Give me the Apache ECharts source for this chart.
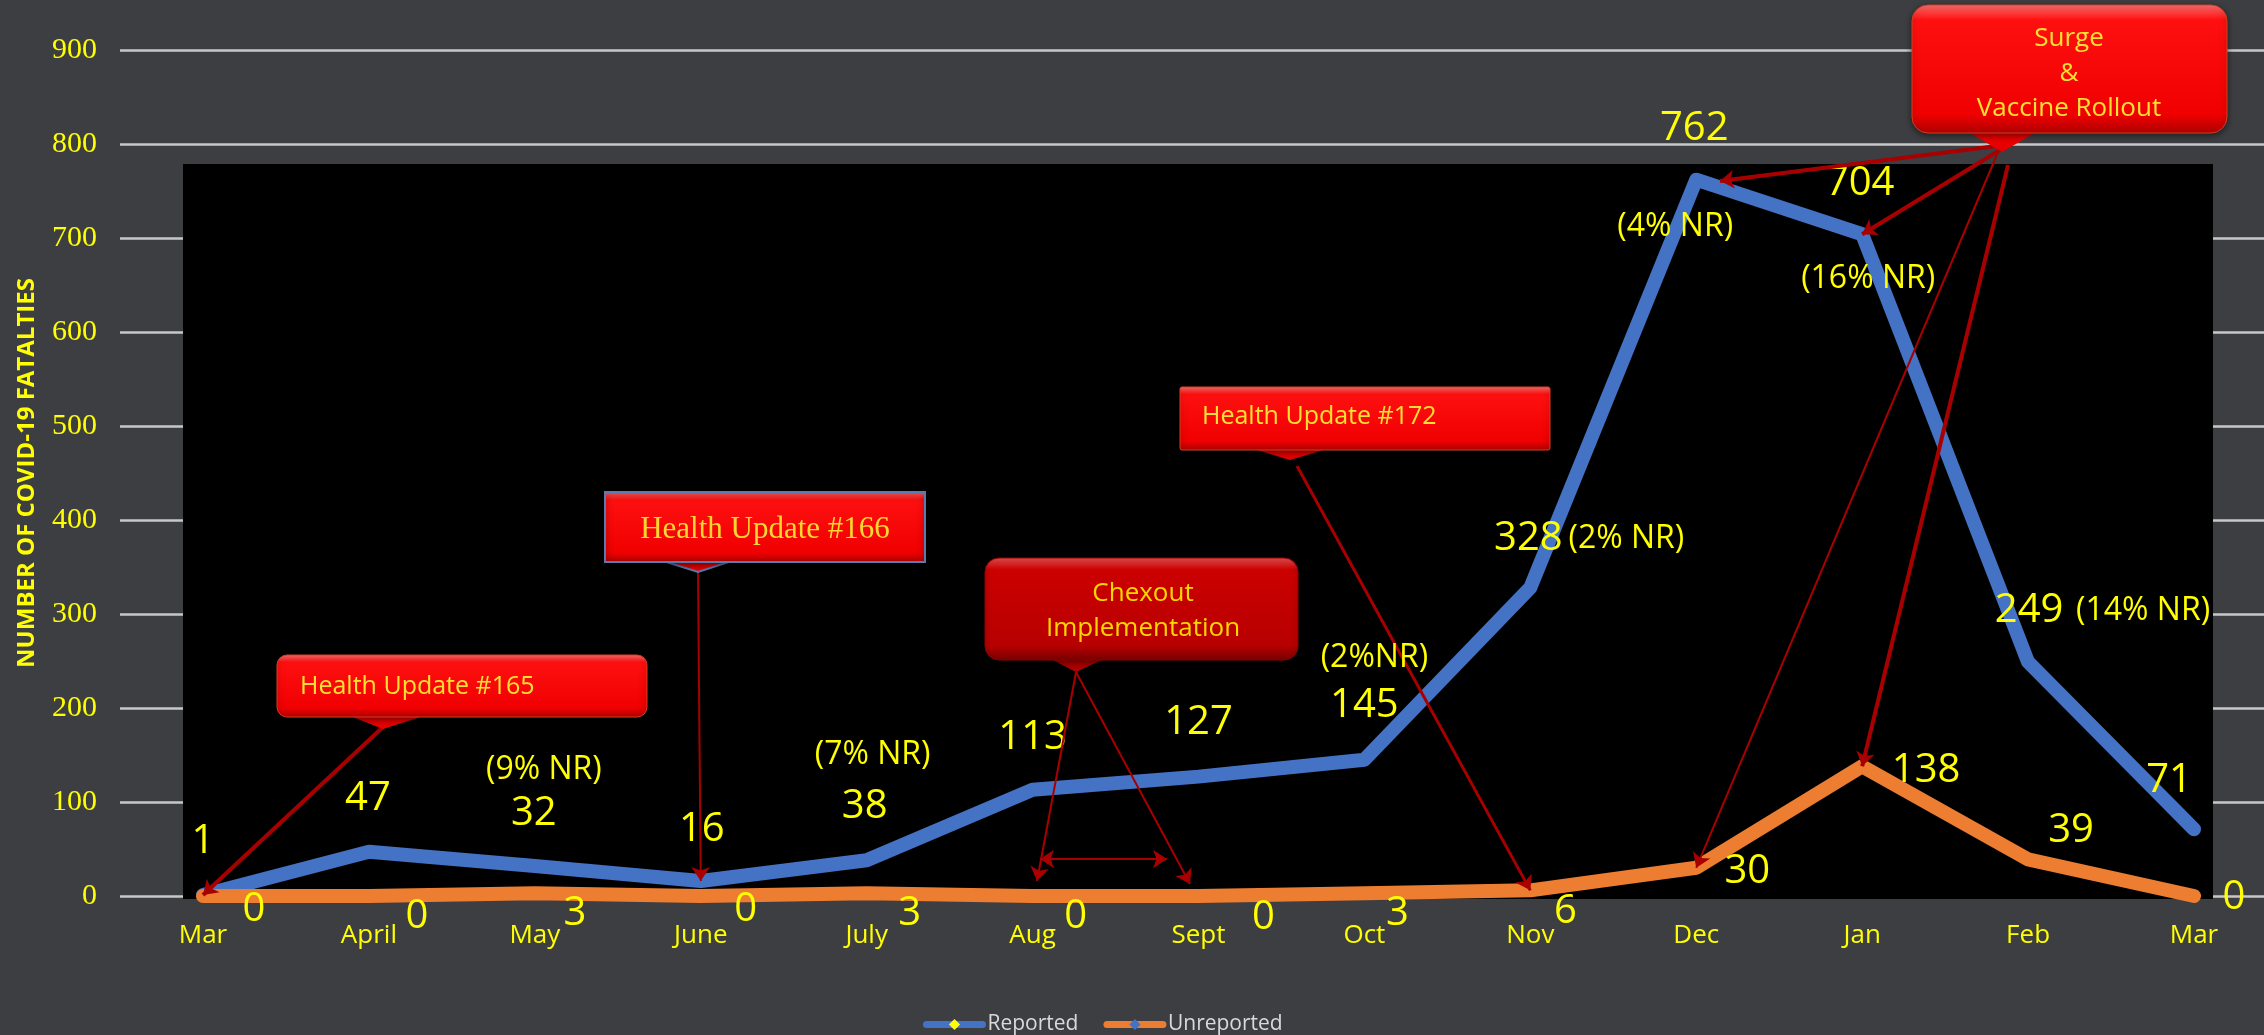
<!DOCTYPE html>
<html><head><meta charset="utf-8">
<script src="https://cdn.jsdelivr.net/npm/echarts@6/dist/echarts.min.js"></script>
<style>html,body{margin:0;padding:0;background:#3c3e42;}#c{width:2264px;height:1035px;}</style>
</head><body><div id="c"></div>
<script>
// ---- data ----
const months = ['Mar','April','May','June','July','Aug','Sept','Oct','Nov','Dec','Jan','Feb','Mar'];
const reported = [1,47,32,16,38,113,127,145,328,762,704,249,71];
const unreported = [0,0,3,0,3,0,0,3,6,30,138,39,0];
const nrNotes = ['','','(9% NR)','','(7% NR)','','','(2%NR)','(2% NR)','(4% NR)','(16% NR)','(14% NR)',''];
const yMin = 0, yMax = 900, yStep = 100;

// ---- label layout (pixel offsets of label centres from their points) ----
const repOffsets = [[0,-53],[-1,-53],[-1,-52],[1,-51],[-2,-54],[0,-52],[0,-54],[0,-54],[-2,-49],[-2,-51],[-2,-51],[1,-51],[-25,-49]];
const unrepOffsets = [[51,14],[48,21],[40,20],[45,14],[43,20],[43,21],[65,22],[33,20],[35,21],[51,4],[64,4],[43,-29],[40,2]];
const nrOffsets = [null,null,[9,-96],null,[6,-105],null,null,[10,-102],[96,-49],[-21,47],[6,45],[115,-51],null];

const YEL = '#ffff00';
const BLUE = '#4472c4', ORANGE = '#ed7d31';
const ARROW = '#a80000';
const SERIF = 'Liberation Serif, DejaVu Serif, serif';

const chart = echarts.init(document.getElementById('c'), null, {renderer:'canvas'});

const repData = reported.map((v,i)=>({value:v, label:{offset:repOffsets[i]}}));
const unrepData = unreported.map((v,i)=>({value:v, label:{offset:unrepOffsets[i]}}));
const nrPoints = [];
nrNotes.forEach((t,i)=>{ if(t) nrPoints.push({name:t, coord:[i, reported[i]], label:{offset:nrOffsets[i]}}); });

function ln(from, to, width, extra){
  const ls = {color:ARROW, width:width, type:'solid'};
  return [Object.assign({lineStyle:ls}, from, extra&&extra[0]||{}), Object.assign({lineStyle:ls}, to, extra&&extra[1]||{})];
}
const arrows = [
  ln({x:383,y:727},{coord:[0,reported[0]]},4),
  ln({x:698,y:572},{coord:[3,reported[3]]},2),
  ln({x:1076,y:672},{x:1037,y:881},2),
  ln({x:1076,y:672},{x:1190,y:884},2),
  ln({x:1040,y:859},{x:1167,y:859},2,[{symbol:'arrow'},{symbol:'arrow'}]),
  ln({x:1297,y:466},{coord:[8,unreported[8]]},3),
  ln({x:1997,y:146},{x:1720,y:181},4),
  ln({x:2000,y:150},{coord:[10,reported[10]]},4),
  ln({x:1998,y:152},{coord:[9,unreported[9]]},2),
  ln({x:2008,y:165},{coord:[10,unreported[10]]},4)
];

function redGrad(dark){
  return dark ? {type:'linear',x:0,y:0,x2:0,y2:1,colorStops:[{offset:0,color:'#e85050'},{offset:0.12,color:'#cc0000'},{offset:0.85,color:'#b80000'},{offset:1,color:'#7a0000'}]}
              : {type:'linear',x:0,y:0,x2:0,y2:1,colorStops:[{offset:0,color:'#ff7070'},{offset:0.12,color:'#ff1010'},{offset:0.85,color:'#f00000'},{offset:1,color:'#b00000'}]};
}
function callout(x,y,w,h,r,tip,dark,border){
  const els = [];
  els.push({type:'polygon', z:10, shape:{points:tip}, style:{fill: dark?'#b00000':'#e80000', stroke: border||'none', lineWidth: border?2:0}});
  els.push({type:'rect', z:11, shape:{x:x,y:y,width:w,height:h,r:r}, style:{fill:redGrad(dark), stroke:border||(dark?'#900000':'#d04020'), lineWidth:border?2:1, shadowBlur:6, shadowColor:'rgba(0,0,0,0.5)', shadowOffsetY:2}});
  return els;
}
function txt(x,y,text,size,align,color,family){
  return {type:'text', z:12, style:{x:x,y:y,text:text,fill:color||'#ffe033',fontSize:size,fontFamily:family||'Open Sans',textAlign:align||'center',textVerticalAlign:'middle',lineHeight:35}};
}

const graphics = [
  {type:'rect', z:1, silent:true, shape:{x:183,y:164,width:2030,height:735}, style:{fill:'#000000'}},
  ...callout(277,655,370,62,10,[[345,714],[383,729],[430,714]],false),
  txt(300,687,'Health Update #165',25,'left'),
  ...callout(605,492,320,70,0,[[660,560],[698,572],[735,560]],false,'#5a7ab0'),
  txt(765,530,'Health Update #166',31,'center','#ffd730',SERIF),
  ...callout(985,558,313,102,14,[[1045,656],[1076,672],[1110,656]],true),
  txt(1143,611,'Chexout\nImplementation',26,'center','#ffd700'),
  ...callout(1180,387,370,63,2,[[1250,448],[1290,460],[1330,448]],false),
  txt(1202,417,'Health Update #172',25,'left'),
  ...callout(1912,5,315,128,16,[[1965,130],[2002,152],[2040,130]],false),
  txt(2069,74,'Surge\n&\nVaccine Rollout',26,'center')
];

const option = {
  backgroundColor:'#3c3e42',
  animation:false,
  grid:[
    {left:120, right:0, top:50, bottom:139},
    {left:203, right:70, top:50, bottom:139}
  ],
  xAxis:[
    {gridIndex:0, type:'value', show:false, min:0, max:1},
    {gridIndex:1, type:'category', data:months, boundaryGap:false,
     axisLine:{show:false}, axisTick:{show:false},
     axisLabel:{interval:0, color:YEL, fontSize:26, fontFamily:'Open Sans', margin:27}}
  ],
  yAxis:[
    {gridIndex:0, type:'value', min:yMin, max:yMax, interval:yStep, z:0,
     axisLine:{show:false}, axisTick:{show:false},
     axisLabel:{color:YEL, fontSize:30, fontFamily:SERIF, margin:23},
     splitLine:{lineStyle:{color:'#c8c8c8', width:2.5}},
     name:'NUMBER OF COVID-19 FATALTIES', nameLocation:'middle', nameGap:81,
     nameTextStyle:{color:YEL, fontWeight:'bold', fontSize:24, fontFamily:'Open Sans'}},
    {gridIndex:1, type:'value', min:yMin, max:yMax, interval:yStep, show:false, splitLine:{show:false}}
  ],
  legend:{left:918, top:1009, itemWidth:56, itemHeight:14, itemGap:25,
    textStyle:{color:'#d9d9d9', fontSize:21, fontFamily:'Open Sans'},
    lineStyle:{width:7, cap:'round'},
    data:[{name:'Reported', itemStyle:{color:YEL}}, {name:'Unreported', itemStyle:{color:BLUE}}]},
  graphic:graphics,
  series:[
    {name:'Reported', type:'line', xAxisIndex:1, yAxisIndex:1, z:3, data:repData,
     symbol:'diamond', symbolSize:2, showSymbol:true,
     itemStyle:{color:BLUE}, lineStyle:{color:BLUE, width:14, cap:'round', join:'round'},
     label:{show:true, position:'inside', formatter:'{c}', color:YEL, fontSize:40, fontFamily:'Open Sans'},
     markPoint:{symbol:'circle', symbolSize:1, itemStyle:{color:'rgba(0,0,0,0)'}, silent:true,
       label:{show:true, position:'inside', formatter:'{b}', color:YEL, fontSize:32, fontFamily:'Open Sans'},
       data:nrPoints},
     markLine:{silent:true, symbol:['none','arrow'], symbolSize:14, label:{show:false},
       lineStyle:{color:ARROW, type:'solid'}, emphasis:{disabled:true}, data:arrows}
    },
    {name:'Unreported', type:'line', xAxisIndex:1, yAxisIndex:1, z:4, data:unrepData,
     symbol:'diamond', symbolSize:2, showSymbol:true,
     itemStyle:{color:ORANGE}, lineStyle:{color:ORANGE, width:14, cap:'round', join:'round'},
     label:{show:true, position:'inside', formatter:'{c}', color:YEL, fontSize:40, fontFamily:'Open Sans'}}
  ]
};
chart.setOption(option);
</script>
</body></html>
